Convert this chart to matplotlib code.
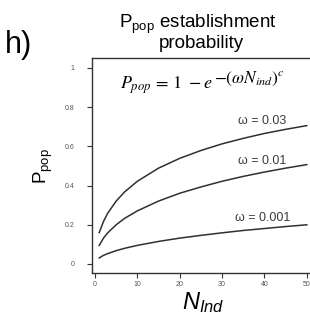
import matplotlib
matplotlib.use("Agg")
import matplotlib.pyplot as plt

plt.rcParams['font.family'] = ['Liberation Sans', 'DejaVu Sans']
plt.rcParams['mathtext.fontset'] = 'custom'
plt.rcParams['mathtext.rm'] = 'Liberation Sans'
plt.rcParams['mathtext.it'] = 'Liberation Sans:italic'
plt.rcParams['mathtext.bf'] = 'Liberation Sans:bold'

N_ind = [1, 2, 3, 5, 7, 10, 15, 20, 25, 30, 35, 40, 45, 50]
p_w003 = [0.16, 0.217, 0.259, 0.321, 0.368, 0.422, 0.489, 0.539, 0.579, 0.613, 0.641, 0.666, 0.687, 0.706]
p_w001 = [0.095, 0.132, 0.159, 0.20, 0.233, 0.271, 0.321, 0.361, 0.393, 0.422, 0.447, 0.469, 0.489, 0.507]
p_w0001 = [0.031, 0.044, 0.053, 0.068, 0.080, 0.095, 0.115, 0.132, 0.146, 0.159, 0.171, 0.181, 0.191, 0.20]
series_labels = ["ω = 0.03", "ω = 0.01", "ω = 0.001"]
xticks = [0, 10, 20, 30, 40, 50]
yticks = [0, 0.2, 0.4, 0.6, 0.8, 1]
ytick_labels = ["0", "0.2", "0.4", "0.6", "0.8", "1"]

W, H = 310, 320
fig = plt.figure(figsize=(W/100, H/100), dpi=100)
ax = fig.add_axes([92/W, 1-273/H, 222/W, (273-58)/H])
line_col = '#303030'
for ys in (p_w003, p_w001, p_w0001):
    ax.plot(N_ind, ys, color=line_col, lw=1.1)

lab_pos = [(39.5, 0.712), (39.5, 0.508), (39.5, 0.217)]
for (x, y), t in zip(lab_pos, series_labels):
    ax.text(x, y, t, fontsize=9, color='#3a3a3a', ha='center', va='baseline')

# equation: base part and a larger exponent, as in the reference
eq_base = ax.text((120-92)/220, (273-89)/215, r'$P_{pop}\,=\,1\;\;{-}\,e$', transform=ax.transAxes,
                  fontsize=13, ha='left', va='baseline', color='black', math_fontfamily='stix')
ax.annotate(r'$-(\omega N_{ind})^{c}$', xy=(1.0, 1.0), xycoords=eq_base,
            xytext=(1.0, 5.0), textcoords='offset pixels',
            fontsize=12.5, ha='left', va='top', color='black', math_fontfamily='stix')

ax.set_xlim(-0.71, 51.7)
ax.set_ylim(-0.046, 1.051)
ax.set_xticks(xticks)
ax.set_yticks(yticks)
ax.set_yticklabels(ytick_labels)
ax.tick_params(axis='both', labelsize=5, colors='#333333', labelcolor='#555555', length=3.6, width=0.8)
ax.tick_params(axis='y', pad=9)
ax.tick_params(axis='x', pad=2.5)
for s in ('left', 'bottom', 'top'):
    ax.spines[s].set_linewidth(1.0)
    ax.spines[s].set_color('#333333')
ax.spines['right'].set_visible(False)

ax.set_ylabel(r'P$_{\mathrm{pop}}$', fontsize=13.5, labelpad=7)
ax.set_xlabel(r'$\mathit{N}_{\mathit{Ind}}$', fontsize=17, labelpad=1)

fig.text(0.64, 1-28/H, r'P$_{\mathrm{pop}}$ establishment', fontsize=13.5, ha='center', va='baseline')
fig.text(0.65, 1-48/H, 'probability', fontsize=13.5, ha='center', va='baseline')
fig.text(0.015, 0.86, 'h)', fontsize=22, ha='left', va='center')

fig.savefig('out.png', dpi=100)
